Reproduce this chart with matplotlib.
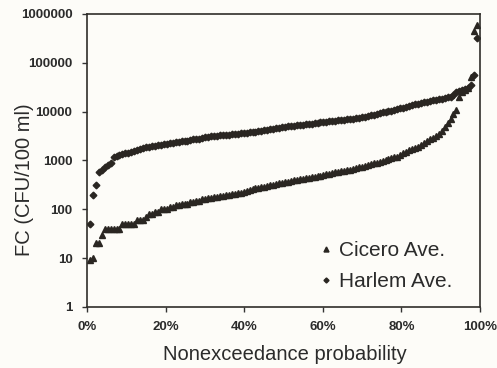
import numpy as np
import matplotlib
matplotlib.use('Agg')
import matplotlib.pyplot as plt
from matplotlib.ticker import PercentFormatter, NullLocator

# sorted FC values (CFU/100 ml)
cicero = [9, 10, 20, 20, 30,
          40, 40, 40, 40, 40, 40,
          50, 50, 50, 50, 50,
          60, 60, 60, 70, 80, 80, 90, 90,
          100, 100, 100, 110, 110,
          120, 120, 130, 130, 130, 140,
          140, 150, 150, 160, 160, 170,
          170, 180, 180, 190, 190, 200,
          200, 210, 210, 220, 220, 230,
          240, 250, 260, 270, 270, 280,
          290, 300, 310, 320, 330, 340,
          350, 360, 370, 380, 390, 400,
          410, 420, 430, 440, 450, 460, 480,
          490, 500, 520, 540, 550, 570, 590,
          600, 620, 640, 650, 670, 690, 720,
          750, 780, 800, 830, 870, 900, 940,
          980, 1000, 1050, 1100, 1150, 1200,
          1300, 1400, 1500, 1600, 1700, 1800,
          1900, 2100, 2300, 2500, 2700, 2900,
          3100, 3500, 4000, 4800, 5800,
          7000, 9000, 11000, 20000,
          25000, 28000, 30000, 52000, 450000, 600000]

harlem = [50, 200, 320, 590,
          650, 720, 800, 900,
          1200, 1250, 1300, 1350, 1400,
          1450, 1500, 1550, 1600, 1700, 1800,
          1850, 1900, 1950, 2000, 2050, 2100, 2150,
          2200, 2250, 2300, 2350, 2400, 2450, 2500,
          2550, 2600, 2700, 2750, 2800, 2900, 3000,
          3050, 3100, 3150, 3200, 3250, 3300, 3350,
          3400, 3450, 3500, 3550, 3600, 3650, 3700,
          3750, 3800, 3900, 4000, 4100, 4200, 4300,
          4400, 4500, 4600, 4700, 4800, 4900, 5000,
          5050, 5100, 5200, 5300, 5400, 5500, 5600,
          5700, 5800, 5900, 6000, 6100, 6200, 6300,
          6400, 6500, 6600, 6700, 6800, 6900, 7000,
          7100, 7300, 7500, 7700, 7900, 8100, 8400,
          8700, 9000, 9300, 9600, 9900, 10200, 10500,
          10900, 11300, 11700, 12100, 12500, 13000, 13500,
          14000, 14500, 15000, 15500, 16000, 16500, 17000,
          17500, 18000, 18500, 19000, 19500, 20000,
          22000, 25000, 27000, 28000, 29000, 30000,
          35000, 55000, 320000]

y_ticks = [1, 10, 100, 1000, 10000, 100000, 1000000]
y_labels = ['1', '10', '100', '1000', '10000', '100000', '1000000']
x_ticks = [0, 0.2, 0.4, 0.6, 0.8, 1.0]

# plotting position (Weibull) for the nonexceedance probability
def plot_pos(vals):
    n = len(vals)
    return np.arange(1, n + 1) / (n + 1.0)

ink = '#2a2622'
txt = '#2b2b2b'

plt.rcParams['font.family'] = ['Liberation Sans', 'DejaVu Sans']

fig = plt.figure(figsize=(4.97, 3.68), dpi=100)
fig.patch.set_facecolor('#fdfcf8')
ax = fig.add_axes([0.175, 0.166, 0.791, 0.796])
ax.set_facecolor('#fdfcf8')

ax.plot(plot_pos(cicero), cicero, linestyle='none', marker='^', ms=4.8,
        color=ink, mec=ink, label='Cicero Ave.')
ax.plot(plot_pos(harlem), harlem, linestyle='none', marker='D', ms=3.4,
        color=ink, mec=ink, label='Harlem Ave.')

ax.set_yscale('log')
ax.set_ylim(1, 1000000)
ax.set_xlim(0, 1)
ax.set_yticks(y_ticks)
ax.set_yticklabels(y_labels)
ax.yaxis.set_minor_locator(NullLocator())
ax.set_xticks(x_ticks)
ax.xaxis.set_major_formatter(PercentFormatter(xmax=1, decimals=0))

for lab in ax.get_xticklabels() + ax.get_yticklabels():
    lab.set_fontweight('bold')
    lab.set_fontsize(9.5)
    lab.set_color(txt)
ax.tick_params(axis='both', direction='out', length=3.5, width=1, color='#333', pad=7)

for s in ax.spines.values():
    s.set_color('#302e2a')
    s.set_linewidth(1.2)

ax.set_xlabel('Nonexceedance probability', fontsize=14.5, color=txt)
ax.xaxis.set_label_coords(0.503, -0.13)
ax.set_ylabel('FC (CFU/100 ml)', fontsize=14.5, color=txt)
ax.yaxis.set_label_coords(-0.135, 0.435)

leg = ax.legend(loc='lower right', bbox_to_anchor=(0.978, -0.01), frameon=False,
                fontsize=15, handlelength=0.5, handletextpad=0.4,
                labelspacing=0.57, markerscale=0.75)
for t in leg.get_texts():
    t.set_color(txt)

fig.savefig('out.png', dpi=100, facecolor=fig.get_facecolor())
